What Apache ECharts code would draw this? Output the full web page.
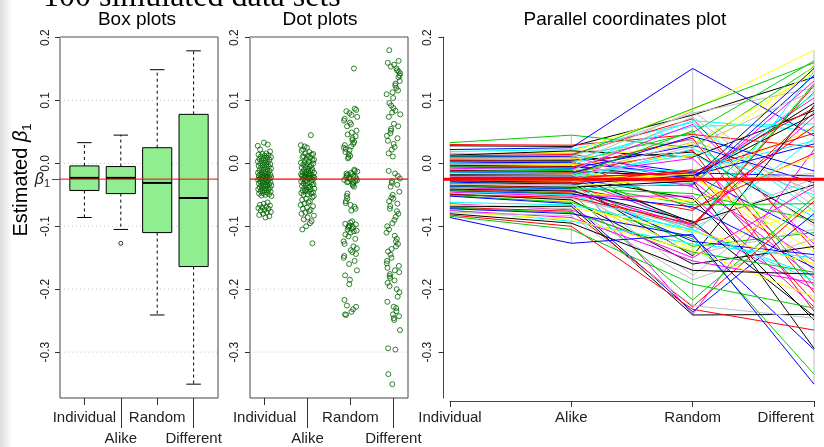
<!DOCTYPE html>
<html>
<head>
<meta charset="utf-8">
<script src="https://cdn.jsdelivr.net/npm/echarts@6.0.0/dist/echarts.min.js"></script>
<style>
  html, body { margin: 0; padding: 0; background: #fff; }
  #main { width: 824px; height: 447px; }
</style>
</head>
<body>
<div id="main"></div>
<script>
// categories and the true value of beta1
var categories = ['Individual', 'Alike', 'Random', 'Different'];
var beta1 = -0.025;
var yTicks = [-0.3, -0.2, -0.1, 0, 0.1, 0.2];

// 100 simulated data sets, one estimate per method (same row = same data set)
var individual = [
  0.028, 0.030, 0.033, 0.022, 0.019, 0.016, 0.015, 0.014, 0.013, 0.012,
  0.011, 0.010, 0.009, 0.008, 0.007, 0.006, 0.005, 0.004, 0.003, 0.002,
  0.001, 0.000, -0.001, -0.002, -0.003, -0.004, -0.005, -0.006, -0.007, -0.008,
  -0.009, -0.010, -0.011, -0.012, -0.013, -0.014, -0.015, -0.016, -0.016, -0.017,
  -0.018, -0.019, -0.019, -0.020, -0.021, -0.021, -0.022, -0.022, -0.023, -0.023,
  -0.024, -0.024, -0.025, -0.026, -0.026, -0.027, -0.028, -0.029, -0.030, -0.030,
  -0.031, -0.032, -0.033, -0.034, -0.035, -0.035, -0.036, -0.037, -0.038, -0.039,
  -0.040, -0.040, -0.041, -0.042, -0.043, -0.044, -0.045, -0.046, -0.047, -0.048,
  -0.049, -0.050, -0.051, -0.052, -0.062, -0.064, -0.066, -0.067, -0.069, -0.070,
  -0.071, -0.072, -0.074, -0.075, -0.077, -0.078, -0.080, -0.082, -0.084, -0.086
];
var alike = [
  0.027, 0.029, 0.045, 0.025, 0.022, 0.015, 0.018, 0.016, 0.020, 0.014,
  0.012, 0.011, 0.006, 0.009, 0.007, 0.010, 0.005, 0.003, 0.002, 0.001,
  -0.003, -0.001, -0.002, 0.000, -0.005, -0.006, -0.007, -0.008, -0.009, -0.010,
  -0.015, -0.012, -0.013, -0.014, -0.011, -0.016, -0.016, -0.017, -0.018, -0.018,
  -0.019, -0.021, -0.020, -0.021, -0.020, -0.022, -0.022, -0.023, -0.023, -0.023,
  -0.027, -0.025, -0.026, -0.024, -0.028, -0.029, -0.030, -0.031, -0.032, -0.033,
  -0.037, -0.035, -0.036, -0.034, -0.038, -0.039, -0.040, -0.041, -0.042, -0.043,
  -0.046, -0.045, -0.044, -0.047, -0.048, -0.049, -0.050, -0.052, -0.060, -0.056,
  -0.058, -0.054, -0.062, -0.064, -0.066, -0.074, -0.070, -0.072, -0.068, -0.076,
  -0.078, -0.080, -0.092, -0.086, -0.089, -0.083, -0.095, -0.100, -0.105, -0.127
];
var random = [
  0.077, 0.046, 0.025, 0.151, 0.065, -0.022, 0.085, 0.037, 0.010, 0.071,
  0.087, -0.015, 0.059, -0.027, 0.031, 0.080, 0.018, -0.072, 0.049, -0.018,
  0.068, -0.037, 0.012, 0.083, -0.024, 0.040, -0.100, 0.029, -0.012, 0.062,
  -0.030, 0.074, -0.020, 0.021, -0.063, 0.043, -0.104, 0.008, -0.026, 0.034,
  -0.094, -0.016, 0.052, -0.033, 0.015, -0.240, -0.021, 0.027, -0.056, -0.013,
  -0.132, -0.025, 0.023, -0.097, -0.017, -0.029, -0.147, -0.010, -0.066, -0.019,
  -0.107, -0.035, -0.023, -0.178, -0.028, -0.075, -0.048, -0.124, -0.031, -0.099,
  -0.060, -0.144, -0.092, -0.102, -0.217, -0.069, -0.110, -0.052, -0.135, -0.101,
  -0.160, -0.096, -0.120, -0.236, -0.105, -0.150, -0.108, -0.185, -0.241, -0.228,
  -0.141, -0.116, -0.128, -0.155, -0.138, -0.226, -0.170, -0.232, -0.192, -0.113
];
var different = [
  0.137, 0.026, 0.154, 0.044, -0.076, 0.104, 0.180, -0.045, 0.084, -0.136,
  0.160, -0.020, 0.063, -0.182, 0.143, 0.120, -0.095, 0.016, 0.163, -0.115,
  0.052, -0.155, 0.148, -0.056, 0.096, -0.205, 0.127, -0.031, 0.036, -0.128,
  0.157, -0.068, 0.078, -0.235, 0.113, -0.012, 0.146, -0.170, 0.055, -0.100,
  -0.034, 0.088, -0.195, 0.140, -0.085, 0.022, -0.140, 0.116, -0.249, 0.048,
  -0.110, 0.151, -0.050, 0.074, -0.163, -0.016, 0.092, -0.220, -0.064, 0.031,
  -0.179, 0.131, -0.124, -0.028, -0.294, 0.059, -0.090, -0.145, 0.110, -0.200,
  0.011, -0.105, -0.243, 0.124, -0.054, -0.166, 0.040, -0.228, -0.072, -0.024,
  -0.132, 0.081, -0.335, -0.080, -0.186, -0.037, -0.159, -0.120, -0.240, -0.060,
  -0.173, -0.296, -0.150, -0.190, -0.212, -0.246, -0.176, -0.265, -0.230, -0.351
];

// box plot statistics
var boxLow = [-0.086, -0.105, -0.241, -0.351];
var boxQ1 = [-0.043, -0.048, -0.110, -0.164];
var boxMedian = [-0.023, -0.023, -0.031, -0.055];
var boxQ3 = [-0.004, -0.005, 0.025, 0.078];
var boxHigh = [0.033, 0.045, 0.149, 0.179];
var boxOutliers = [[2, -0.127]];

var columns = [individual, alike, random, different];
var FONT = '"Liberation Sans", Arial, sans-serif';
var yMin = -0.373, yMax = 0.201;
var rPalette = ['#000000', '#FF0000', '#00CD00', '#0000FF', '#00FFFF', '#FF00FF', '#FFFF00', '#BEBEBE'];

var myChart = echarts.init(document.getElementById('main'));

function catLabel(v) {
    return categories[Math.round(v) - 1] || '';
}

// x axis of a panel, only ticks/labels at the given category positions
function catAxis(gridIndex, min, max, ticks, tickLen, margin) {
    return {
        type: 'value', gridIndex: gridIndex, position: 'bottom', min: min, max: max,
        axisLine: {show: false, onZero: false},
        axisTick: {show: true, customValues: ticks, length: tickLen, lineStyle: {color: '#333'}},
        axisLabel: {show: true, customValues: ticks, margin: margin, fontSize: 15, color: '#222',
            fontFamily: FONT, formatter: catLabel},
        splitLine: {show: false}
    };
}

function valAxis(gridIndex, margin) {
    return {
        type: 'value', gridIndex: gridIndex, position: 'left', min: yMin, max: yMax,
        axisLine: {show: false, onZero: false},
        axisTick: {show: true, customValues: yTicks, length: 5, lineStyle: {color: '#333'}},
        axisLabel: {show: true, customValues: yTicks, rotate: 90, margin: margin, fontSize: 12,
            color: '#222', fontFamily: FONT, formatter: function (v) { return v.toFixed(1); }},
        splitLine: {show: false}
    };
}

// horizontal lines over the whole width of a grid
function hLines(xi, yi, xRef, values, color, width, dash, z) {
    return {
        type: 'custom', xAxisIndex: xi, yAxisIndex: yi, silent: true, z: z,
        data: values.map(function (v) { return [xRef, v]; }),
        renderItem: function (params, api) {
            var cs = params.coordSys;
            var y = api.coord([xRef, api.value(1)])[1];
            return {
                type: 'line',
                shape: {x1: cs.x, y1: y, x2: cs.x + cs.width, y2: y},
                style: {stroke: color, lineWidth: width, lineDash: dash || null}
            };
        }
    };
}

// horizontal spread of the dots (stripchart jitter), in category units
function jitter(i) {
    return (((i * 73) % 101) / 100 - 0.5) * 0.32;
}

var boxData = categories.map(function (c, k) {
    return [k + 1, boxLow[k], boxQ1[k], boxMedian[k], boxQ3[k], boxHigh[k]];
});

var dotData = [];
columns.forEach(function (col, k) {
    col.forEach(function (v, i) {
        dotData.push([k + 1 + jitter(i + k * 17), v]);
    });
});

var pcRows = individual.map(function (v, i) {
    return [individual[i], alike[i], random[i], different[i]];
});
var pcAxes = columns.map(function (col, k) {
    return [k + 1, Math.min.apply(null, col), Math.max.apply(null, col)];
});

var option = {
    animation: false,
    backgroundColor: '#fff',
    grid: [
        {left: 60, top: 37, width: 158, height: 361, show: true, borderColor: '#444', borderWidth: 1},
        {left: 250, top: 37, width: 158, height: 361, show: true, borderColor: '#444', borderWidth: 1},
        {left: 450, top: 37, width: 364, height: 361},
        {left: 444, top: 37, width: 380, height: 361}
    ],
    xAxis: [
        catAxis(0, 0.33, 4.67, [1, 3], 7, 12),
        catAxis(0, 0.33, 4.67, [2, 4], 30, 33),
        catAxis(1, 0.66, 4.34, [1, 3], 7, 12),
        catAxis(1, 0.66, 4.34, [2, 4], 30, 33),
        {
            type: 'value', gridIndex: 2, position: 'bottom', min: 1, max: 4, offset: 3,
            axisLine: {show: true, onZero: false, lineStyle: {color: '#444'}},
            axisTick: {show: true, customValues: [1, 2, 3, 4], length: 6, lineStyle: {color: '#333'}},
            axisLabel: {show: true, customValues: [1, 2, 3, 4], margin: 9, fontSize: 15, color: '#222',
                fontFamily: FONT, formatter: catLabel, alignMaxLabel: 'right'},
            splitLine: {show: false}
        },
        {type: 'value', gridIndex: 3, min: 0, max: 1, show: false}
    ],
    yAxis: [
        valAxis(0, 8),
        {
            type: 'value', gridIndex: 0, position: 'left', min: yMin, max: yMax,
            axisLine: {show: false, onZero: false},
            axisTick: {show: true, customValues: [beta1], length: 8, lineStyle: {color: '#FF0000'}},
            axisLabel: {
                show: true, customValues: [beta1], margin: 10, color: '#222',
                formatter: function () { return '{b|β}{s|1}'; },
                rich: {
                    b: {fontSize: 16, fontStyle: 'italic', fontFamily: FONT, color: '#222'},
                    s: {fontSize: 11, fontFamily: FONT, color: '#222', padding: [10, 0, 0, 0]}
                }
            },
            splitLine: {show: false}
        },
        valAxis(1, 9),
        (function () {
            var a = valAxis(2, 10);
            a.offset = 6.5;
            a.axisLine = {show: true, onZero: false, lineStyle: {color: '#444'}};
            return a;
        })(),
        {type: 'value', gridIndex: 3, min: yMin, max: yMax, show: false}
    ],
    graphic: [
        {
            type: 'rect', silent: true, z: -10,
            shape: {x: 0, y: 0, width: 12, height: 447},
            style: {fill: new echarts.graphic.LinearGradient(0, 0, 1, 0, [
                {offset: 0, color: '#dcdcdc'}, {offset: 1, color: '#ffffff'}])}
        },
        {
            type: 'text', x: 43, y: -2,
            style: {text: '100 simulated data sets', font: '32px "Liberation Serif"', fill: '#000',
                align: 'left', verticalAlign: 'middle'}
        },
        {type: 'text', x: 137, y: 20, style: {text: 'Box plots', font: '19px ' + FONT, fill: '#000', align: 'center', verticalAlign: 'middle'}},
        {type: 'text', x: 320, y: 20, style: {text: 'Dot plots', font: '19px ' + FONT, fill: '#000', align: 'center', verticalAlign: 'middle'}},
        {type: 'text', x: 625, y: 20, style: {text: 'Parallel coordinates plot', font: '19px ' + FONT, fill: '#000', align: 'center', verticalAlign: 'middle'}},
        {
            type: 'text', x: 21, y: 180, rotation: Math.PI / 2,
            style: {
                text: '{n|Estimated }{b|β}{s|1}', align: 'center', verticalAlign: 'middle',
                rich: {
                    n: {fontSize: 20, fontFamily: FONT, fill: '#000'},
                    b: {fontSize: 20, fontFamily: FONT, fontStyle: 'italic', fill: '#000'},
                    s: {fontSize: 13, fontFamily: FONT, fill: '#000', padding: [12, 0, 0, 0]}
                }
            }
        }
    ],
    series: [
        // box plots
        hLines(0, 0, 1, yTicks, '#c8c8c8', 1, [1, 3], 1),
        {
            type: 'custom', xAxisIndex: 0, yAxisIndex: 0, z: 2,
            data: boxData,
            encode: {x: 0, y: [1, 2, 3, 4, 5]},
            renderItem: function (params, api) {
                var x = api.value(0);
                var w = 0.4, cw = 0.2;
                var p = function (xx, yy) { return api.coord([xx, yy]); };
                var lo = api.value(1), q1 = api.value(2), md = api.value(3), q3 = api.value(4), hi = api.value(5);
                var tl = p(x - w, q3), br = p(x + w, q1);
                var line = function (a, b, dash, lw) {
                    return {type: 'line', shape: {x1: a[0], y1: a[1], x2: b[0], y2: b[1]},
                        style: {stroke: '#000', lineWidth: lw || 1, lineDash: dash || null}};
                };
                return {
                    type: 'group',
                    children: [
                        line(p(x, q3), p(x, hi), [3, 3]),
                        line(p(x, q1), p(x, lo), [3, 3]),
                        line(p(x - cw, hi), p(x + cw, hi)),
                        line(p(x - cw, lo), p(x + cw, lo)),
                        {type: 'rect', shape: {x: tl[0], y: tl[1], width: br[0] - tl[0], height: br[1] - tl[1]},
                            style: {fill: '#90EE90', stroke: '#000', lineWidth: 1}},
                        line(p(x - w, md), p(x + w, md), null, 2)
                    ]
                };
            }
        },
        {
            type: 'scatter', xAxisIndex: 0, yAxisIndex: 0, z: 3,
            data: boxOutliers, symbol: 'circle', symbolSize: 4,
            itemStyle: {color: 'transparent', borderColor: '#000', borderWidth: 1}
        },
        hLines(0, 0, 1, [beta1], '#FF0000', 1, null, 4),

        // dot plots
        hLines(2, 2, 1, yTicks, '#c8c8c8', 1, [1, 3], 1),
        {
            type: 'scatter', xAxisIndex: 2, yAxisIndex: 2, z: 2,
            data: dotData, symbol: 'circle', symbolSize: 5,
            itemStyle: {color: 'transparent', borderColor: '#006400', borderWidth: 1}
        },
        hLines(2, 2, 1, [beta1], '#FF0000', 1.2, null, 4),

        // parallel coordinates
        {
            type: 'custom', xAxisIndex: 4, yAxisIndex: 3, z: 1, silent: true,
            data: pcAxes,
            renderItem: function (params, api) {
                var a = api.coord([api.value(0), api.value(1)]);
                var b = api.coord([api.value(0), api.value(2)]);
                return {type: 'line', shape: {x1: a[0], y1: a[1], x2: b[0], y2: b[1]},
                    style: {stroke: '#BEBEBE', lineWidth: 1}};
            }
        },
        {
            type: 'custom', xAxisIndex: 4, yAxisIndex: 3, z: 2, silent: true,
            data: pcRows,
            renderItem: function (params, api) {
                var pts = [0, 1, 2, 3].map(function (k) {
                    return api.coord([k + 1, api.value(k)]);
                });
                return {type: 'polyline', shape: {points: pts},
                    style: {stroke: rPalette[params.dataIndex % 8], lineWidth: 1, fill: null}};
            }
        },
        hLines(5, 4, 0.5, [beta1], '#FF0000', 3, null, 5)
    ]
};

myChart.setOption(option);
</script>
</body>
</html>
